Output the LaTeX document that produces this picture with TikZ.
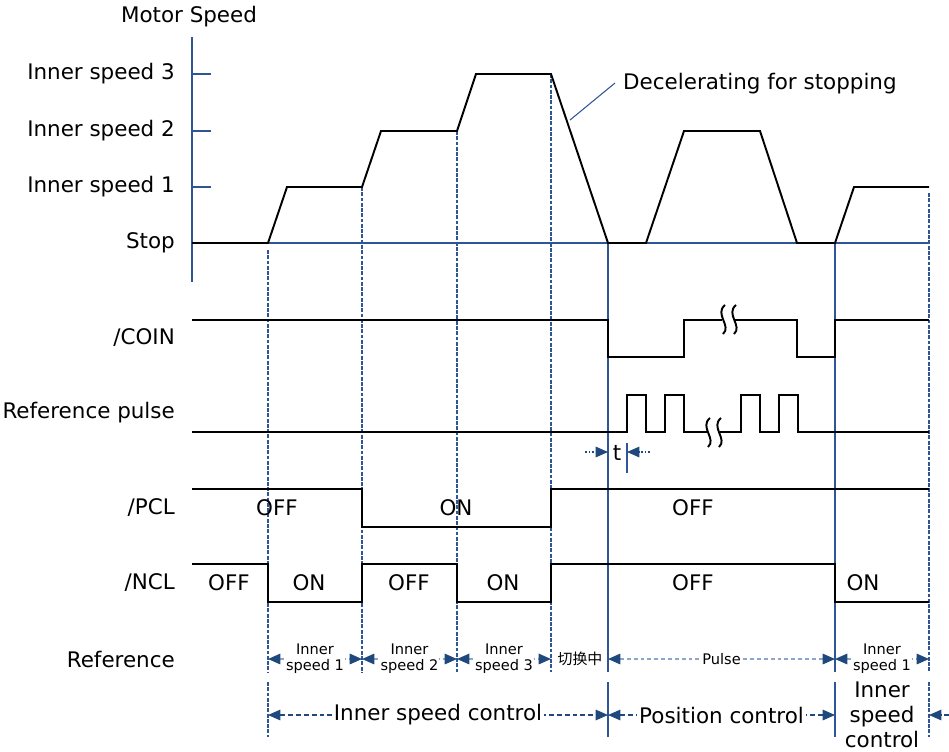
\documentclass[tikz,border=0pt]{standalone}
\usepackage{fontspec}
\setmainfont{DejaVu Sans}
\newfontfamily\cjk{Noto Sans CJK SC}
\usetikzlibrary{arrows.meta}
\usepackage{xcolor}
\definecolor{axblue}{RGB}{47,85,151}
\definecolor{tipblue}{RGB}{31,73,125}
\definecolor{spanblue}{RGB}{140,166,200}

\begin{document}
\begin{tikzpicture}[x=0.02cm,y=-0.02cm,font=\fontsize{12.2}{14.4}\selectfont,
  >={Triangle[length=7pt,width=6pt,color=tipblue]},
  sig/.style={line width=1.1pt},
  wave/.style={line width=1.1pt},
  ax/.style={axblue,line width=0.6pt},
  vdash/.style={axblue,line width=0.6pt,dash pattern=on 2.2pt off 0.8pt},
  span/.style={<->,spanblue,line width=0.7pt,dash pattern=on 2.2pt off 1.7pt},
  ctrl/.style={<->,tipblue,line width=0.6pt,dash pattern=on 2.8pt off 1.7pt},
  lab/.style={fill=white,text=black,inner sep=1pt},
  small/.style={font=\fontsize{8.3}{9.1}\selectfont,text=black,align=center,fill=white,inner sep=0.5pt}]
\useasboundingbox (0,0) rectangle (949,751);
\draw[ax] (192,37) -- (192,282);
\draw[ax] (192,243) -- (929,243);
\draw[ax] (192,74) -- (211,74);
\draw[ax] (192,131) -- (211,131);
\draw[ax] (192,187) -- (211,187);
\draw[vdash] (268,250) -- (268,672) (268,682) -- (268,737);
\draw[vdash] (362,187) -- (362,672);
\draw[vdash] (457,131) -- (457,672);
\draw[vdash] (551,74) -- (551,672);
\draw[ax] (608,243) -- (608,672) (608,682) -- (608,737);
\draw[ax] (835,243) -- (835,672) (835,682) -- (835,737);
\draw[vdash] (929,193) -- (929,672) (929,682) -- (929,737);
\node (mspeed) at (189,17) {Motor Speed};
\node[anchor=east] (sp3) at (181,74) {Inner speed 3};
\node[anchor=east] (sp2) at (181,131) {Inner speed 2};
\node[anchor=east] (sp1) at (181,187) {Inner speed 1};
\node[anchor=east] (stop) at (181,243) {Stop};
\node[anchor=east] (lcoin) at (181,338) {/COIN};
\node[anchor=east] (lpulse) at (181,413) {Reference pulse};
\node[anchor=east] (lpcl) at (181,508) {/PCL};
\node[anchor=east] (lncl) at (181,583) {/NCL};
\node[anchor=east] (lref) at (181,659) {Reference};
\draw[sig] (192,243) -- (268,243) -- (287,187) -- (362,187) -- (381,131) -- (457,131) -- (476,74) -- (551,74) -- (608,243) -- (646,243) -- (684,131) -- (760,131) -- (797,243) -- (835,243) -- (854,187) -- (929,187);
\draw[ax] (570,120) -- (615,83);
\node[anchor=west] (decel) at (617,84) {Decelerating for stopping};
\draw[sig] (192,320) -- (608,320) -- (608,357) -- (684,357) -- (684,320) -- (722,320);
\draw[sig] (734,320) -- (797,320) -- (797,357) -- (835,357) -- (835,320) -- (929,320);
\draw[wave] (725,305) .. controls (714,314) and (732,326) .. (723,334);
\draw[wave] (736,305) .. controls (725,314) and (743,326) .. (734,334);
\draw[sig] (192,432) -- (627,432) -- (627,395) -- (646,395) -- (646,432) -- (665,432) -- (665,395) -- (684,395) -- (684,432) -- (707,432);
\draw[sig] (720,432) -- (741,432) -- (741,395) -- (760,395) -- (760,432) -- (779,432) -- (779,395) -- (798,395) -- (798,432) -- (929,432);
\draw[wave] (710,418) .. controls (699,427) and (717,439) .. (708,447);
\draw[wave] (721,418) .. controls (710,427) and (728,439) .. (719,447);
\draw[ax] (627,443) -- (627,473);
\draw[->,tipblue,line width=0.6pt,dash pattern=on 1pt off 1pt] (585,452) -- (608,452);
\draw[->,tipblue,line width=0.6pt,dash pattern=on 1pt off 1pt] (650,452) -- (627,452);
\node[inner sep=1pt] (tlab) at (617,453) {t};
\draw[sig] (192,489) -- (362,489) -- (362,527) -- (551,527) -- (551,489) -- (929,489);
\node (pcl1) at (277,508) {OFF};
\node (pcl2) at (456,508) {ON};
\node (pcl3) at (693,508) {OFF};
\draw[sig] (192,564) -- (268,564) -- (268,602) -- (362,602) -- (362,564) -- (457,564) -- (457,602) -- (551,602) -- (551,564) -- (835,564) -- (835,602) -- (929,602);
\node (ncl1) at (229,583) {OFF};
\node (ncl2) at (309,583) {ON};
\node (ncl3) at (409,583) {OFF};
\node (ncl4) at (503,583) {ON};
\node (ncl5) at (693,583) {OFF};
\node (ncl6) at (863,583) {ON};
\coordinate (ra) at (268,659);
\coordinate (rb) at (362,659);
\coordinate (rc) at (457,659);
\coordinate (rd) at (551,659);
\coordinate (re) at (608,659);
\coordinate (rf) at (835,659);
\coordinate (rg) at (929,659);
\draw[span] (ra) -- (rb) node[midway,small] (ref1) {Inner\\speed 1};
\draw[span] (rb) -- (rc) node[midway,small] (ref2) {Inner\\speed 2};
\draw[span] (rc) -- (rd) node[midway,small] (ref3) {Inner\\speed 3};
\node[font=\cjk\fontsize{8.5}{9}\selectfont] (ref4) at (580,659) {切换中};
\draw[span] (re) -- (rf) node[midway,small] (ref5) {Pulse};
\draw[span] (rf) -- (rg) node[midway,small] (ref6) {Inner\\speed 1};
\coordinate (ca) at (268,715);
\coordinate (ce) at (608,715);
\coordinate (cf) at (835,715);
\coordinate (cg) at (929,715);
\coordinate (cx) at (949,715);
\draw[ctrl] (ca) -- (ce) node[midway,lab] (isc) {Inner speed control};
\draw[ctrl] (ce) -- (cf) node[midway,lab] (posc) {Position control};
\node[align=center,inner sep=0pt] (isc2) at (882,715) {Inner\\speed\\control};
\draw[->,tipblue,line width=0.6pt,dash pattern=on 2.8pt off 1.7pt] (cx) -- (cg);
\end{tikzpicture}
\end{document}
